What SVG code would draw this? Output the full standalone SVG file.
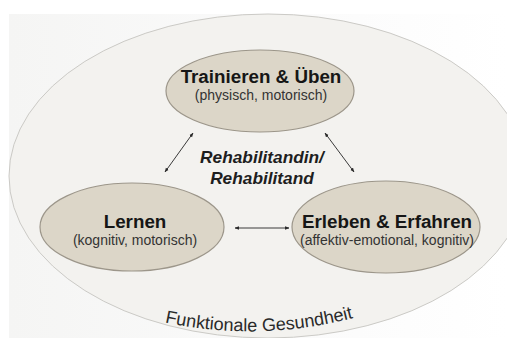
<svg xmlns="http://www.w3.org/2000/svg" width="507" height="338" viewBox="0 0 507 338">
  <defs>
    <linearGradient id="bg" x1="0" y1="0" x2="1" y2="0">
      <stop offset="0" stop-color="#f5f5f4"/>
      <stop offset="0.6" stop-color="#fbfbfb"/>
      <stop offset="1" stop-color="#ffffff"/>
    </linearGradient>
    <marker id="ah" viewBox="0 0 10 10" refX="9" refY="5" markerWidth="4.5" markerHeight="4.5" orient="auto-start-reverse" markerUnits="userSpaceOnUse">
      <path d="M0,1 L10,5 L0,9 z" fill="#2b2b2b"/>
    </marker>
    <path id="arcPath" d="M 150 319 Q 258 346 368 314"/>
  </defs>
  <style>
    .node { fill: #dcd6c8; stroke: #9c968a; stroke-width: 1.2; }
    .title { font-family: "Liberation Sans", Arial, sans-serif; font-weight: bold; font-size: 18.8px; fill: #161616; text-anchor: middle; }
    .sub { font-family: "Liberation Sans", Arial, sans-serif; font-size: 14px; fill: #333333; text-anchor: middle; }
    .center { font-family: "Liberation Sans", Arial, sans-serif; font-weight: bold; font-style: italic; font-size: 17.3px; fill: #1e1e1e; text-anchor: middle; }
    .outer-label { font-family: "Liberation Sans", Arial, sans-serif; font-size: 18px; fill: #2a2a2a; }
    .conn { stroke: #3a3a3a; stroke-width: 1; fill: none; marker-start: url(#ah); marker-end: url(#ah); }
  </style>
  <rect x="0" y="0" width="507" height="338" fill="#ffffff"/>
  <rect x="9" y="14" width="498" height="324" fill="url(#bg)"/>

  <g id="funktionale-gesundheit">
    <ellipse cx="268" cy="176" rx="259" ry="162" fill="#f3f2ef" stroke="#cbcac6" stroke-width="1"/>
    <text class="outer-label"><textPath href="#arcPath" startOffset="50%" text-anchor="middle">Funktionale Gesundheit</textPath></text>
  </g>

  <g id="connectors">
    <line class="conn" x1="165" y1="172" x2="193" y2="133"/>
    <line class="conn" x1="325" y1="133" x2="354" y2="172"/>
    <line class="conn" x1="235" y1="228" x2="289" y2="228"/>
  </g>

  <g id="trainieren">
    <ellipse class="node" cx="260" cy="91" rx="94" ry="41"/>
    <text class="title" x="261" y="83">Trainieren &amp; Üben</text>
    <text class="sub" x="261" y="100">(physisch, motorisch)</text>
  </g>

  <g id="lernen">
    <ellipse class="node" cx="132" cy="227" rx="92" ry="44"/>
    <text class="title" x="135" y="228">Lernen</text>
    <text class="sub" x="135" y="245">(kognitiv, motorisch)</text>
  </g>

  <g id="erleben">
    <ellipse class="node" cx="386" cy="227" rx="94" ry="46"/>
    <text class="title" x="387" y="228">Erleben &amp; Erfahren</text>
    <text class="sub" x="387" y="245">(affektiv-emotional, kognitiv)</text>
  </g>

  <g id="rehabilitand">
    <text class="center" x="262" y="163">Rehabilitandin/</text>
    <text class="center" x="262" y="184">Rehabilitand</text>
  </g>
</svg>
